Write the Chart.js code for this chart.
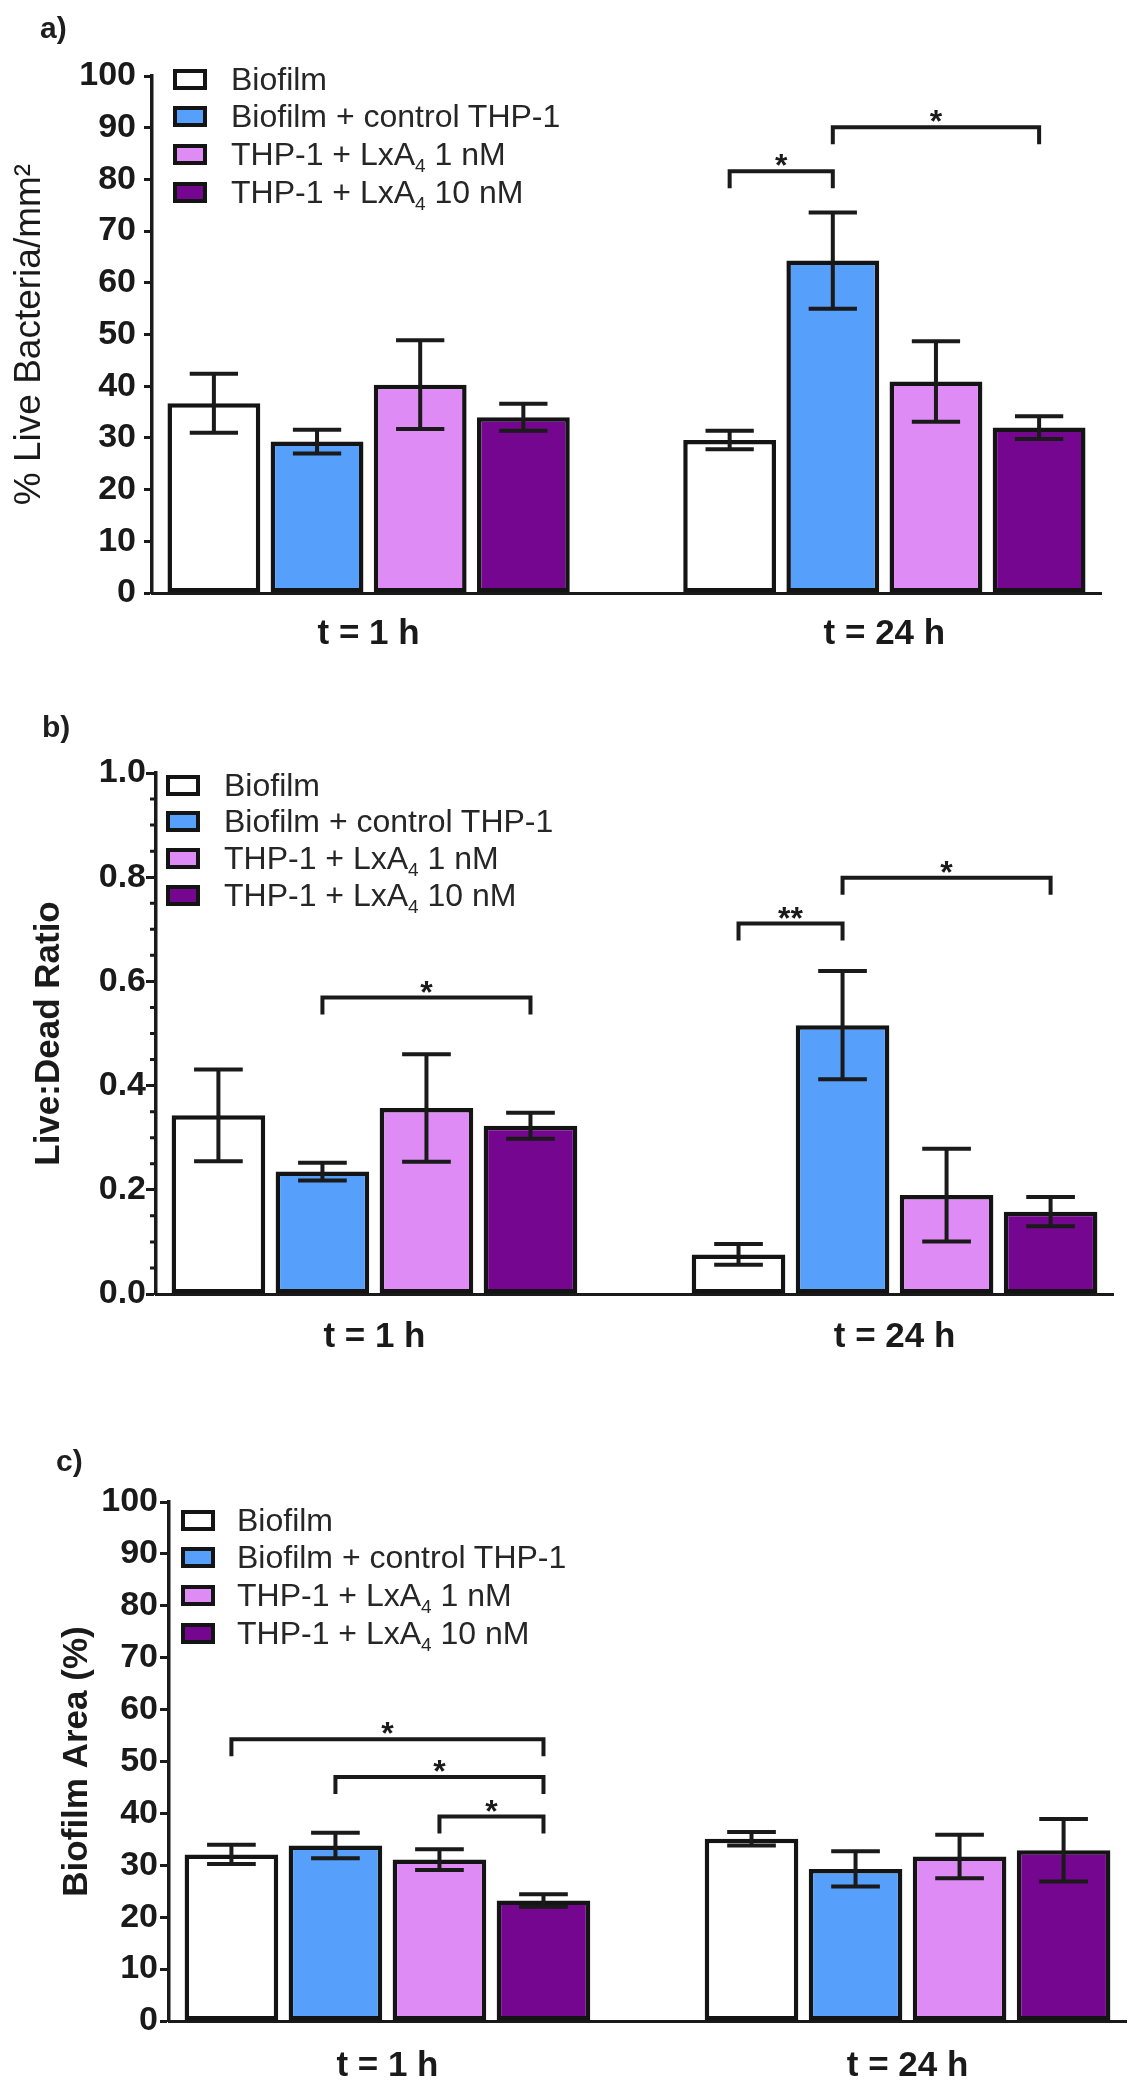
<!DOCTYPE html>
<html lang="en">
<head>
<meta charset="UTF-8">
<title>Live bacteria, live:dead ratio and biofilm area</title>
<script src="https://cdn.jsdelivr.net/npm/chart.js"></script>
<style>
  body {
    margin: 0;
    width: 1133px;
    height: 2085px;
    position: relative;
    overflow: hidden;
    background: #fff;
    font-family: "Liberation Sans", Arial, sans-serif;
    color: #1e1e1e;
  }
  canvas { position: absolute; left: 0; }
  .tag { position: absolute; font-size: 30px; font-weight: bold; line-height: 36px; }
  .lbox {
    position: absolute;
    width: 34px; height: 21px;
    box-sizing: border-box;
    border: 4px solid #141414;
  }
  .ltxt { position: absolute; font-size: 32px; line-height: 37px; white-space: nowrap; color: #262626; }
  .ltxt sub { font-size: 19px; vertical-align: -7px; line-height: 0; }
</style>
</head>
<body>
<canvas id="chartA" width="1133" height="660"></canvas>
<canvas id="chartB" width="1133" height="690"></canvas>
<canvas id="chartC" width="1133" height="685"></canvas>

<script>
// ---- data ----
const groups = ['t = 1 h', 't = 24 h'];
const seriesNames = ['Biofilm', 'Biofilm + control THP-1', 'THP-1 + LxA4 1 nM', 'THP-1 + LxA4 10 nM'];
const seriesColors = ['#ffffff', '#569ffb', '#de8bf5', '#75068f'];

// a) % live bacteria/mm2, one row per series, [1 h, 24 h]
const liveMean = [[36.7, 29.6], [29.3, 64.3], [40.3, 40.9], [34.0, 32.0]];
const liveSem  = [[5.7, 1.8], [2.3, 9.3], [8.6, 7.8], [2.6, 2.2]];
const liveTicks = [0, 10, 20, 30, 40, 50, 60, 70, 80, 90, 100];
// significance: [group, from series, to series, bracket level, label]
const liveSig = [[1, 0, 1, 81.6, '*'], [1, 1, 3, 90.1, '*']];

// b) live:dead ratio
const ratioMean = [[0.343, 0.076], [0.235, 0.516], [0.357, 0.190], [0.323, 0.158]];
const ratioSem  = [[0.088, 0.020], [0.017, 0.104], [0.103, 0.089], [0.025, 0.028]];
const ratioTicks = [0.0, 0.2, 0.4, 0.6, 0.8, 1.0];
const ratioMinorStep = 0.05;
const ratioSig = [[0, 1, 3, 0.569, '*'], [1, 0, 1, 0.711, '**'], [1, 1, 3, 0.799, '*']];

// c) biofilm area %
const areaMean = [[32.1, 35.1], [33.8, 29.3], [31.1, 31.7], [23.2, 32.9]];
const areaSem  = [[1.85, 1.3], [2.45, 3.4], [2.0, 4.2], [1.2, 6.0]];
const areaTicks = [0, 10, 20, 30, 40, 50, 60, 70, 80, 90, 100];
const areaSig = [[0, 0, 3, 54.3, '*'], [0, 1, 3, 47.0, '*'], [0, 2, 3, 39.4, '*']];

const FONT = '"Liberation Sans", Arial, sans-serif';
const INK = '#1a1a1a';

// error bars, significance brackets and minor ticks, all placed through the chart scales
function annotations(sig, minorStep, majorTicks) {
  return {
    id: 'annotations',
    afterDatasetsDraw(chart) {
      const ctx = chart.ctx;
      const y = chart.scales.y;
      ctx.save();
      ctx.strokeStyle = INK;
      ctx.lineWidth = 4;
      chart.data.datasets.forEach((ds, i) => {
        chart.getDatasetMeta(i).data.forEach((bar, j) => {
          const v = ds.data[j].y, e = ds.sem[j];
          const top = y.getPixelForValue(v + e);
          const bot = y.getPixelForValue(v - e);
          const half = bar.width * 0.26;
          ctx.beginPath();
          ctx.moveTo(bar.x, top); ctx.lineTo(bar.x, bot);
          ctx.moveTo(bar.x - half, top); ctx.lineTo(bar.x + half, top);
          ctx.moveTo(bar.x - half, bot); ctx.lineTo(bar.x + half, bot);
          ctx.stroke();
        });
      });

      ctx.fillStyle = INK;
      ctx.font = 'bold 32px ' + FONT;
      ctx.textAlign = 'center';
      ctx.textBaseline = 'alphabetic';
      ctx.lineJoin = 'miter';
      sig.forEach(([g, a, b, level, label]) => {
        const xa = chart.getDatasetMeta(a).data[g].x;
        const xb = chart.getDatasetMeta(b).data[g].x;
        const yl = y.getPixelForValue(level);
        ctx.beginPath();
        ctx.moveTo(xa, yl + 17); ctx.lineTo(xa, yl);
        ctx.lineTo(xb, yl); ctx.lineTo(xb, yl + 17);
        ctx.stroke();
        ctx.fillText(label, (xa + xb) / 2, yl + 5);
      });

      if (minorStep) {
        const x0 = chart.chartArea.left;
        ctx.lineWidth = 3;
        ctx.beginPath();
        for (let v = y.min; v <= y.max + 1e-9; v += minorStep) {
          if (majorTicks.some(t => Math.abs(t - v) < 1e-6)) continue;
          const py = y.getPixelForValue(v);
          ctx.moveTo(x0 - 6, py); ctx.lineTo(x0, py);
        }
        ctx.stroke();
      }
      ctx.restore();
    }
  };
}

function makeChart(id, L, means, sems, ticks, sig, title, fmt, minorStep) {
  return new Chart(document.getElementById(id), {
    type: 'bar',
    data: {
      datasets: means.map((m, s) => ({
        label: seriesNames[s],
        data: m.map((v, g) => ({ x: g, y: v })),
        sem: sems[s],
        backgroundColor: seriesColors[s],
        borderColor: '#141414',
        borderWidth: 4.5,
        borderSkipped: false
      }))
    },
    options: {
      responsive: false,
      animation: false,
      devicePixelRatio: 1,
      layout: { padding: { top: L.chartTop, right: L.padRight, left: 0, bottom: 0 } },
      plugins: { legend: { display: false }, tooltip: { enabled: false } },
      scales: {
        x: {
          type: 'linear',
          min: -0.42,
          max: 1.42,
          offset: false,
          bounds: 'data',
          grid: { display: false, drawTicks: false, offset: false },
          border: { display: true, width: 3, color: INK },
          ticks: {
            padding: L.xPad,
            maxRotation: 0,
            color: INK,
            font: { family: FONT, size: 35, weight: 'bold' },
            callback: v => groups[v]
          },
          afterBuildTicks: s => { s.ticks = groups.map((_, i) => ({ value: i })); },
          afterFit: s => { s.height = L.xHeight; }
        },
        y: {
          min: ticks[0],
          max: ticks[ticks.length - 1],
          afterBuildTicks: s => { s.ticks = ticks.map(v => ({ value: v })); },
          grid: { drawOnChartArea: false, drawTicks: true, tickLength: L.tick, tickWidth: 3, tickColor: INK },
          border: { display: true, width: 3.5, color: INK },
          ticks: {
            padding: L.yPad,
            color: INK,
            font: { family: FONT, size: 34, weight: 'bold' },
            callback: fmt
          },
          title: {
            display: true,
            text: title,
            color: INK,
            font: { family: FONT, size: L.titleSize, weight: L.titleWeight },
            padding: { top: L.titlePad, bottom: 0 }
          },
          afterFit: s => { s.width = L.axisX; }
        }
      }
    },
    plugins: [annotations(sig, minorStep, ticks)]
  });
}

function addLegend(lg) {
  seriesNames.forEach((name, i) => {
    const cy = lg.y + i * lg.step;
    const box = document.createElement('div');
    box.className = 'lbox';
    box.style.left = lg.x + 'px';
    box.style.top = (cy - 10.5) + 'px';
    box.style.background = seriesColors[i];
    const txt = document.createElement('div');
    txt.className = 'ltxt';
    txt.style.left = lg.tx + 'px';
    txt.style.top = (cy - 18.5) + 'px';
    txt.innerHTML = name.replace('LxA4', 'LxA<sub>4</sub>');
    document.body.appendChild(box);
    document.body.appendChild(txt);
  });
}

function addTag(text, x, cy) {
  const t = document.createElement('div');
  t.className = 'tag';
  t.textContent = text;
  t.style.left = x + 'px';
  t.style.top = (cy - 18) + 'px';
  document.body.appendChild(t);
}

const layoutA = { top: 0, chartTop: 76, padRight: 32, xHeight: 67, xPad: 20, axisX: 152, tick: 8, yPad: 8,
                  titleSize: 37, titleWeight: 'normal', titlePad: 8 };
const layoutB = { top: 660, chartTop: 113, padRight: 20, xHeight: 56, xPad: 22, axisX: 156, tick: 10, yPad: 0,
                  titleSize: 35, titleWeight: 'bold', titlePad: 28 };
const layoutC = { top: 1400, chartTop: 102, padRight: 7, xHeight: 64, xPad: 24, axisX: 169, tick: 9, yPad: 2,
                  titleSize: 35, titleWeight: 'bold', titlePad: 56 };

document.getElementById('chartA').style.top = layoutA.top + 'px';
document.getElementById('chartB').style.top = layoutB.top + 'px';
document.getElementById('chartC').style.top = layoutC.top + 'px';

makeChart('chartA', layoutA, liveMean, liveSem, liveTicks, liveSig,
          '% Live Bacteria/mm\u00B2', v => String(v));
makeChart('chartB', layoutB, ratioMean, ratioSem, ratioTicks, ratioSig,
          'Live:Dead Ratio', v => v.toFixed(1), ratioMinorStep);
makeChart('chartC', layoutC, areaMean, areaSem, areaTicks, areaSig,
          'Biofilm Area (%)', v => String(v));

addLegend({ x: 173, y: 79, step: 37.7, tx: 231 });
addLegend({ x: 166, y: 785, step: 36.7, tx: 224 });
addLegend({ x: 181, y: 1520, step: 37.7, tx: 237 });

addTag('a)', 40, 28);
addTag('b)', 42, 727);
addTag('c)', 56, 1461);
</script>
</body>
</html>
